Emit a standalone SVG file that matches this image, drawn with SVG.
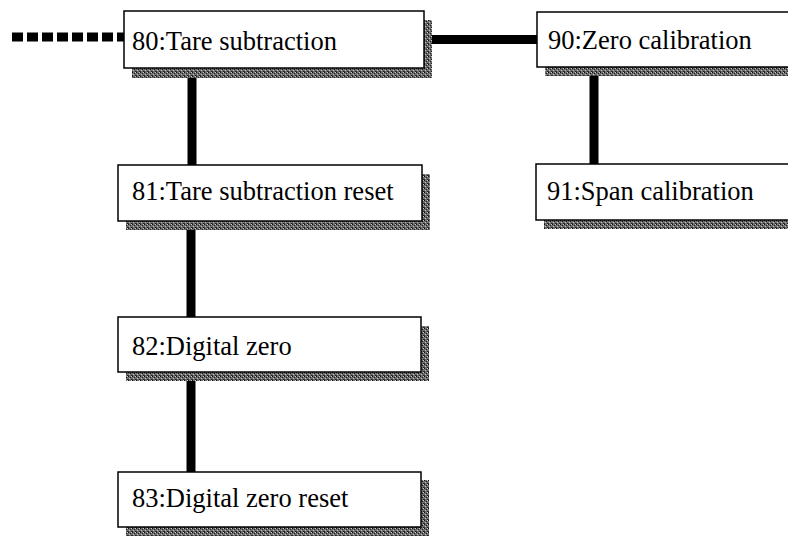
<svg xmlns="http://www.w3.org/2000/svg" width="788" height="538" viewBox="0 0 788 538">
<defs>
<pattern id="ht" width="4" height="4" patternUnits="userSpaceOnUse">
<rect width="4" height="4" fill="#6e6e6e"/>
<rect width="1" height="1" fill="#111"/>
<rect x="2" y="1" width="1" height="1" fill="#222"/>
<rect x="1" y="2" width="1" height="1" fill="#bbb"/>
<rect x="3" y="3" width="1" height="1" fill="#222"/>
<rect x="3" y="0" width="1" height="1" fill="#ccc"/>
<rect x="0" y="3" width="1" height="1" fill="#333"/>
</pattern>
</defs>
<style>
.box{fill:#fff;stroke:#000;stroke-width:1.5}
.sh{fill:url(#ht)}
.lbl{font-family:"Liberation Serif","Times New Roman",serif;font-size:26.5px;fill:#000}
.con{stroke:#000;stroke-width:9;fill:none}
</style>
<rect width="788" height="538" fill="#fff"/>
<g id="connectors">
<line class="con" x1="12" y1="37" x2="124" y2="37" stroke-dasharray="11 4" stroke-width="8"/>
<line class="con" x1="430" y1="39.5" x2="537" y2="39.5"/>
<line class="con" x1="192" y1="76" x2="192" y2="165"/>
<line class="con" x1="191" y1="228" x2="191" y2="317"/>
<line class="con" x1="191" y1="380" x2="191" y2="472"/>
<line class="con" x1="594" y1="74" x2="594" y2="164"/>
</g>
<g id="n80">
<rect class="sh" x="132" y="20" width="300" height="58"/>
<rect class="box" x="124" y="11" width="300" height="57"/>
<text class="lbl" x="132" y="50">80:Tare subtraction</text>
</g>
<g id="n81">
<rect class="sh" x="126" y="174" width="304" height="56"/>
<rect class="box" x="118" y="165" width="304" height="56"/>
<text class="lbl" x="132" y="200">81:Tare subtraction reset</text>
</g>
<g id="n82">
<rect class="sh" x="126" y="326" width="303" height="55"/>
<rect class="box" x="118" y="317" width="303" height="55"/>
<text class="lbl" x="132" y="355">82:Digital zero</text>
</g>
<g id="n83">
<rect class="sh" x="126" y="480" width="303" height="56"/>
<rect class="box" x="118" y="472" width="303" height="55"/>
<text class="lbl" x="132" y="507">83:Digital zero reset</text>
</g>
<g id="n90">
<rect class="sh" x="545" y="21" width="260" height="55"/>
<rect class="box" x="537" y="12" width="260" height="55"/>
<text class="lbl" x="548" y="49">90:Zero calibration</text>
</g>
<g id="n91">
<rect class="sh" x="544" y="173" width="260" height="56"/>
<rect class="box" x="536" y="164" width="260" height="56"/>
<text class="lbl" x="547" y="200">91:Span calibration</text>
</g>
</svg>
